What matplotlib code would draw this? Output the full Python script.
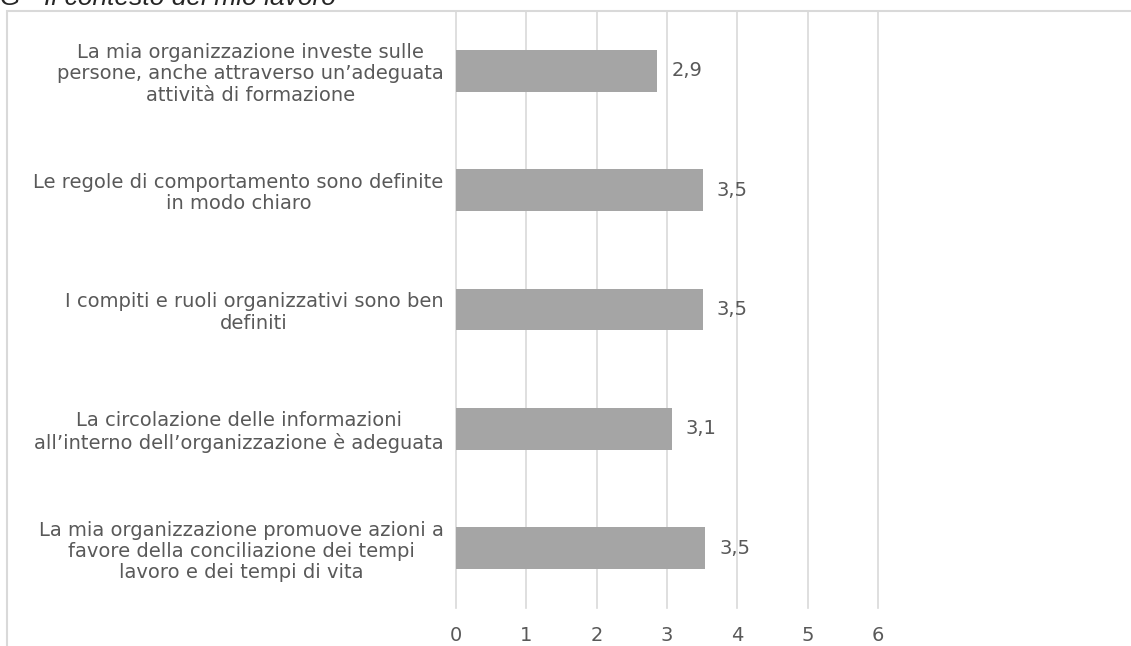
import matplotlib.pyplot as plt
from matplotlib.patches import Rectangle

plt.rcParams['font.family'] = ['DejaVu Sans']

# -- Data
categories = [
    'La mia organizzazione investe sulle\npersone, anche attraverso un\u2019adeguata\nattività di formazione',
    'Le regole di comportamento sono definite\nin modo chiaro',
    'I compiti e ruoli organizzativi sono ben\ndefiniti',
    'La circolazione delle informazioni\nall\u2019interno dell\u2019organizzazione è adeguata',
    'La mia organizzazione promuove azioni a\nfavore della conciliazione dei tempi\nlavoro e dei tempi di vita',
]
values = [2.86, 3.51, 3.51, 3.07, 3.54]
xticks = [0, 1, 2, 3, 4, 5, 6]
title = 'G - Il contesto del mio lavoro'

# -- Style
txt_col = '#595959'
bar_col = '#A5A5A5'
grid_col = '#D9D9D9'
fs = 14

W, H = 1131, 646
fig = plt.figure(figsize=(W / 100, H / 100), dpi=100)

# chart frame
fig.patches.append(Rectangle((7 / W, -0.1), 1.2, 1 - 11 / H + 0.1,
                             transform=fig.transFigure, fill=False,
                             edgecolor='#D9D9D9', linewidth=1.5))

ax = fig.add_axes([456 / W, 1 - 608 / H, (878 - 456) / W, (608 - 11) / H])

ypos = list(range(len(categories)))
ax.barh(ypos, values, height=0.35, color=bar_col, zorder=3)
ax.set_ylim(len(categories) - 0.5, -0.5)
ax.set_xlim(0, 6)
ax.set_xticks(xticks)
ax.set_xticklabels([str(t) for t in xticks])
ax.set_yticks(ypos)
ax.set_yticklabels(categories, multialignment='center', linespacing=1.15)

for y, v in zip(ypos, values):
    ax.text(v + 0.2, y, f'{v:.1f}'.replace('.', ','), va='center', ha='left',
            fontsize=fs, color=txt_col)

ax.grid(axis='x', color=grid_col, linewidth=1.2, zorder=0)
for gl in ax.get_xgridlines():
    gl.set_clip_on(False)
for s in ax.spines.values():
    s.set_visible(False)
ax.tick_params(axis='y', length=0, pad=9, labelsize=fs, labelcolor=txt_col)
ax.tick_params(axis='x', length=0, pad=13, labelsize=fs, labelcolor=txt_col)

fig.text(0, 1 - 5 / H, title, fontsize=19, style='italic',
         family='Liberation Sans', color='#262626', va='baseline', ha='left')

fig.savefig('out.png', dpi=100)
